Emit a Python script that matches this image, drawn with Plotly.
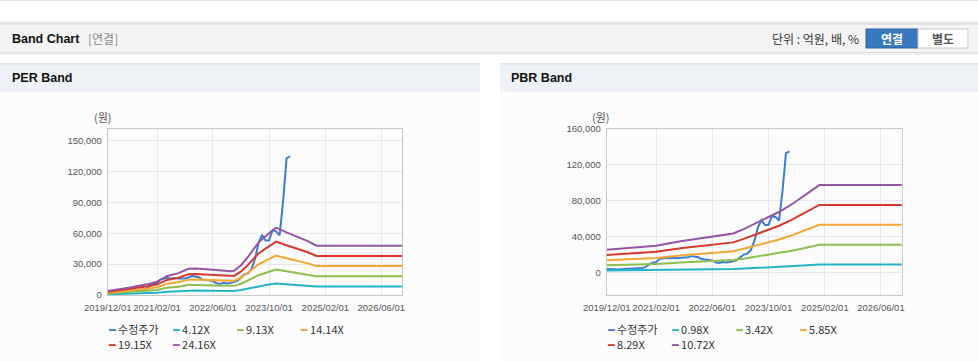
import plotly.graph_objects as go

# ---------------- data ----------------
price_dates = [
    "2019-12-01", "2020-01-01", "2020-02-01", "2020-03-01", "2020-04-01", "2020-05-01",
    "2020-06-01", "2020-07-01", "2020-08-01", "2020-09-01", "2020-10-01", "2020-11-01",
    "2020-12-01", "2021-01-01", "2021-02-01", "2021-03-01", "2021-04-01", "2021-05-01",
    "2021-06-01", "2021-07-01", "2021-08-01", "2021-09-01", "2021-10-01", "2021-11-01",
    "2021-12-01", "2022-01-01", "2022-02-01", "2022-03-01", "2022-04-01", "2022-05-01",
    "2022-06-01", "2022-07-01", "2022-08-01", "2022-09-01", "2022-10-01", "2022-11-01",
    "2022-12-01", "2023-01-01", "2023-02-01", "2023-03-01", "2023-04-01", "2023-05-01",
    "2023-06-01", "2023-07-01", "2023-08-01", "2023-09-01", "2023-10-01", "2023-11-01",
    "2023-12-01", "2024-01-01", "2024-02-01", "2024-03-01", "2024-04-01",
]
price = [
    4000, 4200, 3800, 3400, 3900, 4000,
    4200, 4300, 4500, 4800, 5000, 6000,
    9000, 11000, 11500, 15000, 16000, 16500,
    16000, 16500, 16000, 16200, 16000, 17000,
    18500, 18000, 17000, 15000, 14500, 14000,
    13500, 11500, 10800, 11800, 11200, 11800,
    12500, 14000, 17000, 20000, 21000, 25000,
    35000, 50000, 58500, 53000, 53000, 63000,
    62000, 58000, 92000, 133000, 135000,
]

per_dates = [
    "2019-12-01", "2020-06-01", "2020-12-01", "2021-02-01", "2021-05-01", "2021-08-01",
    "2021-11-01", "2022-01-01", "2022-06-01", "2022-11-01", "2022-12-01", "2023-02-01",
    "2023-04-01", "2023-07-01", "2023-10-01", "2023-12-01", "2024-03-01", "2024-06-01",
    "2024-09-01", "2024-11-15", "2026-12-01",
]
per_names = ["4.12X", "9.13X", "14.14X", "19.15X", "24.16X"]
per_412 = [650, 1200, 1900, 2200, 3150, 3600, 4350, 4400, 4200, 3900, 4000, 4950,
           6300, 8700, 10250, 11150, 10400, 9700, 8950, 8200, 8200]
per_913 = [1450, 2650, 4150, 4900, 7000, 7950, 9650, 9750, 9250, 8700, 8900, 10950,
           14000, 19250, 22650, 24750, 23050, 21550, 19850, 18150, 18150]
per_1414 = [2300, 4100, 6450, 7600, 10850, 12300, 14950, 15100, 14350, 13450, 13750, 17000,
            21650, 29850, 35100, 38350, 35700, 33350, 30750, 28100, 28100]
per_1915 = [3100, 5550, 8700, 10300, 14650, 16650, 20200, 20450, 19400, 18250, 18600, 23000,
            29300, 40400, 47550, 51900, 48350, 45200, 41600, 38050, 38050]
per_2416 = [3900, 7000, 11000, 13000, 18500, 21000, 25500, 25800, 24500, 23000, 23500, 29000,
            37000, 51000, 60000, 65500, 61000, 57000, 52500, 48000, 48000]

pbr_dates = [
    "2019-12-01", "2020-06-01", "2021-02-01", "2021-09-01", "2022-06-01", "2022-12-01",
    "2023-03-01", "2023-06-01", "2023-10-01", "2024-01-01", "2024-05-01", "2024-09-01",
    "2024-12-15", "2026-12-01",
]
pbr_names = ["0.98X", "3.42X", "5.85X", "8.29X", "10.72X"]
pbr_098 = [2300, 2450, 2750, 3200, 3650, 4000, 4450, 4950, 5650, 6150, 7050, 8050, 8900, 8900]
pbr_342 = [8050, 8600, 9550, 11150, 12750, 13900, 15450, 17250, 19800, 21550, 24550, 28050, 31100, 31100]
pbr_585 = [13800, 14750, 16350, 19100, 21850, 23750, 26450, 29450, 33850, 36850, 42000, 48000, 53200, 53200]
pbr_829 = [19550, 20900, 23200, 27050, 30950, 33650, 37500, 41750, 47950, 52200, 59550, 68050, 75400, 75400]
pbr_1072 = [25300, 27000, 30000, 35000, 40000, 43500, 48500, 54000, 62000, 67500, 77000, 88000, 97500, 97500]

x_tick_vals = ["2019-12-01", "2021-02-01", "2022-06-01", "2023-10-01", "2025-02-01", "2026-06-01"]
x_tick_text = ["2019/12/01", "2021/02/01", "2022/06/01", "2023/10/01", "2025/02/01", "2026/06/01"]
per_y_ticks = [0, 30000, 60000, 90000, 120000, 150000]
pbr_y_ticks = [0, 40000, 80000, 120000, 160000]

price_name = "수정주가"
band_colors = ["#22b5c9", "#8cbf4e", "#f7a632", "#d8372c", "#9555a3"]
price_color = "#3b7dd1"

# ---------------- figure ----------------
W, H = 978, 361
def py(v):
    return 1 - v / H
def px(v):
    return v / W

fig = go.Figure()

fig.add_trace(go.Scatter(x=price_dates, y=price, name=price_name, mode="lines",
                         line=dict(color=price_color, width=2), xaxis="x", yaxis="y",
                         showlegend=False))
for nm, vals, col in zip(per_names, [per_412, per_913, per_1414, per_1915, per_2416], band_colors):
    fig.add_trace(go.Scatter(x=per_dates, y=vals, name=nm, mode="lines",
                             line=dict(color=col, width=2), xaxis="x", yaxis="y",
                             showlegend=False))

fig.add_trace(go.Scatter(x=price_dates, y=price, name=price_name, mode="lines",
                         line=dict(color=price_color, width=2), xaxis="x2", yaxis="y2",
                         showlegend=False))
for nm, vals, col in zip(pbr_names, [pbr_098, pbr_342, pbr_585, pbr_829, pbr_1072], band_colors):
    fig.add_trace(go.Scatter(x=pbr_dates, y=vals, name=nm, mode="lines",
                             line=dict(color=col, width=2), xaxis="x2", yaxis="y2",
                             showlegend=False))

tick_font = dict(family="Liberation Sans, Arial, sans-serif", size=9.5, color="#555")
axis_common = dict(showgrid=True, gridcolor="#e8e8e8", gridwidth=1, showline=True,
                   linecolor="#c8c8c8", linewidth=1, mirror=True, zeroline=False,
                   tickfont=tick_font, ticks="", fixedrange=True)

x_range = ["2019-12-01", "2026-11-28"]
fig.update_layout(
    width=W, height=H,
    margin=dict(l=0, r=0, t=0, b=0, autoexpand=False),
    paper_bgcolor="white", plot_bgcolor="white",
    showlegend=False,
    xaxis=dict(domain=[px(107.7), px(402)], anchor="y", type="date", range=x_range,
               tickvals=x_tick_vals, ticktext=x_tick_text, tickangle=0,
               ticklabelstandoff=4, **axis_common),
    yaxis=dict(domain=[py(295), py(128.5)], anchor="x", range=[0, 162000],
               tickvals=per_y_ticks, tickformat=",d", ticklabelstandoff=3, **axis_common),
    xaxis2=dict(domain=[px(606.7), px(901.7)], anchor="y2", type="date", range=x_range,
                tickvals=x_tick_vals, ticktext=x_tick_text, tickangle=0,
                ticklabelstandoff=4, **axis_common),
    yaxis2=dict(domain=[py(295), py(129)], anchor="x2", range=[-25000, 160000],
                tickvals=pbr_y_ticks, tickformat=",d", ticklabelstandoff=3, **axis_common),
)

shapes = []
def rect(x0, y0, x1, y1, fill, line_color=None, lw=0):
    shapes.append(dict(type="rect", xref="paper", yref="paper", x0=px(x0), x1=px(x1),
                       y0=py(y1), y1=py(y0), fillcolor=fill, layer="below",
                       line=dict(color=line_color or fill, width=lw)))

rect(0, 0, 978, 1, "#e6e6e6")
# header bar
rect(0, 22, 978, 25, "#e4e4e4")
rect(0, 25, 978, 52, "#f4f4f4")
rect(0, 52, 978, 53, "#dcdcdc")
rect(0, 53, 978, 55, "#eeeeee")
# panel title bars
rect(0, 63, 480, 65, "#e5e8ed")
rect(0, 65, 480, 92, "#eef1f6")
rect(0, 92, 480, 361, "#fcfcfd")
rect(500, 63, 978, 65, "#e5e8ed")
rect(500, 65, 978, 92, "#eef1f6")
rect(500, 92, 978, 361, "#fcfcfd")
# buttons
rect(866, 29, 918, 48, "#3a78bf", "#2d65a6", 1)
rect(918, 29, 968, 48, "#ffffff", "#c9c9c9", 1)
fig.update_layout(shapes=shapes)

kr = "Noto Sans CJK KR, Liberation Sans, sans-serif"
lat = "Liberation Sans, Arial, sans-serif"
ann = []
def text(x, y, t, size, color, anchor="left", bold=False, family=kr):
    ann.append(dict(xref="paper", yref="paper", x=px(x), y=py(y), xanchor=anchor, yanchor="middle",
                    text=("<b>%s</b>" % t) if bold else t, showarrow=False,
                    font=dict(family=family, size=size, color=color)))

text(10, 39, "Band Chart", 12.5, "#111", bold=True, family=lat)
text(86, 39, "[연결]", 12, "#8a8a8a")
text(861, 38, "단위 : 억원, 배, %", 12, "#333", anchor="right")
text(892, 38, "연결", 12, "#ffffff", anchor="center", bold=True)
text(943, 38, "별도", 12, "#555", anchor="center", bold=True)
text(10, 78, "PER Band", 12.5, "#111", bold=True, family=lat)
text(509, 78, "PBR Band", 12.5, "#111", bold=True, family=lat)
text(102.5, 117, "(원)", 11, "#555", anchor="center")
text(601, 116.5, "(원)", 11, "#555", anchor="center")

# legends (compact, as in the reference)
def legend(x0, names, colors):
    for i, (nm, col) in enumerate(zip(names, colors)):
        cx = x0 + (i % 4) * 64
        cy = 329 + (i // 4) * 15
        ann.append(dict(xref="paper", yref="paper", x=px(cx), y=py(cy), xanchor="left",
                        yanchor="middle", showarrow=False,
                        text="<span style='color:%s;font-family:DejaVu Sans'>━</span> %s" % (col, nm),
                        font=dict(family=kr, size=11, color="#333")))

legend(106, [price_name] + per_names, [price_color] + band_colors)
legend(605, [price_name] + pbr_names, [price_color] + band_colors)
fig.update_layout(annotations=ann)

fig.write_html("out.html", config={"displayModeBar": False},
               post_script="document.body.style.margin='0px';document.body.style.overflow='hidden';")
